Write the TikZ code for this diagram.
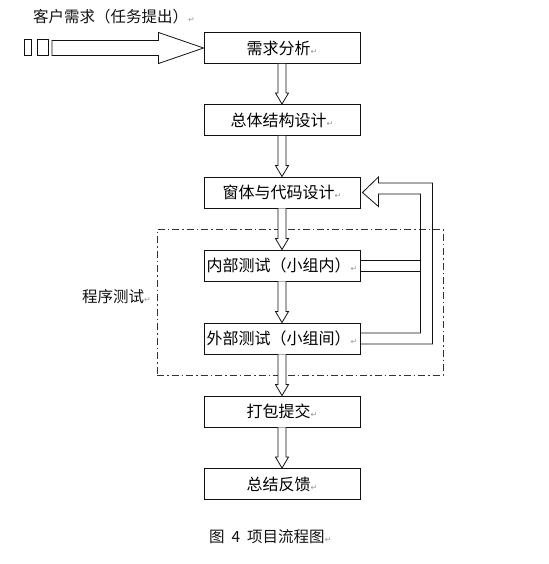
\documentclass[tikz,border=0pt]{standalone}
\usepackage{fontspec}
\usepackage{xcolor}
\usetikzlibrary{calc,positioning}
\newfontfamily\cjk{Noto Sans CJK SC}
\newfontfamily\symfont{DejaVu Sans}
\definecolor{ink}{HTML}{111111}
\definecolor{markgray}{HTML}{9A9A9A}
\definecolor{framegray}{HTML}{333333}
\newcommand{\pmark}{{\symfont\color{markgray}\fontsize{8pt}{9pt}\selectfont ↵}}
\tikzset{
  stepbox/.style={draw=ink, line width=0.9pt, fill=white, minimum width=156pt, minimum height=31pt, inner sep=0pt, font=\cjk\fontsize{16pt}{18pt}\selectfont},
  plain/.style={font=\cjk\fontsize{15.5pt}{17pt}\selectfont, inner sep=0pt, text=ink},
  blockarrow/.style={draw=ink, line width=0.8pt, fill=white, line join=miter},
  testframe/.style={draw=framegray, line width=0.8pt, dash pattern=on 7pt off 3pt on 1.5pt off 3pt, minimum width=286pt, minimum height=146pt, inner sep=0pt},
  glyphbox/.style={draw=ink, line width=0.8pt, minimum height=16pt, inner sep=0pt}
}
\newcommand{\downblock}[2]{%
  \draw[blockarrow] ($(#1.south)+(-4,0)$) -- ($(#2.north)+(-4,-11)$) -- ($(#2.north)+(-6.5,-11)$) -- (#2.north)
    -- ($(#2.north)+(6.5,-11)$) -- ($(#2.north)+(4,-11)$) -- ($(#1.south)+(4,0)$);}

\begin{document}
\begin{tikzpicture}[x=1pt, y=-1pt]
\useasboundingbox (0,0) rectangle (548,564);
\node[testframe] (test) at (300,302) {};
\node[plain, anchor=west] (testlabel) at (82,297) {程序测试\pmark};
\node[plain, anchor=west] (demand) at (33,17) {客户需求（任务提出）\pmark};
\node[glyphbox, minimum width=7pt] (sq1) at (27.5,47.5) {};
\node[glyphbox, minimum width=11pt] (sq2) at (42.5,47.5) {};
\coordinate (inStart) at (52,48);
\node[stepbox] (req) at (282,48) {需求分析\pmark};
\node[stepbox] (arch) at (282,120) {总体结构设计\pmark};
\node[stepbox] (code) at (282,192.5) {窗体与代码设计\pmark};
\node[stepbox] (inner) at (282,265.5) {内部测试（小组内）\pmark};
\node[stepbox] (outer) at (282,338.5) {外部测试（小组间）\pmark};
\node[stepbox] (pack) at (282,411.5) {打包提交\pmark};
\node[stepbox] (summ) at (282,484) {总结反馈\pmark};
\node[plain, anchor=west] (caption) at (209,537) {图\ \ 4\ \ 项目流程图\pmark};
% input arrow
\draw[blockarrow] ($(inStart)+(0,-7.5)$) -- ($(req.west)+(-45,-7.5)$) -- ($(req.west)+(-45,-15.5)$) -- (req.west)
  -- ($(req.west)+(-45,15.5)$) -- ($(req.west)+(-45,7.5)$) -- ($(inStart)+(0,7.5)$) -- cycle;
\downblock{req}{arch}
\downblock{arch}{code}
\downblock{code}{inner}
\downblock{inner}{outer}
\downblock{outer}{pack}
\downblock{pack}{summ}
% feedback loop
\draw[blockarrow, fill=none] ($(outer.east)+(0,5.5)$) -- ($(outer.east)+(72,5.5)$) -- ($(code.east)+(72,-9.5)$)
  -- ($(code.east)+(18,-9.5)$) -- ($(code.east)+(18,-15.5)$) -- ($(code.east)+(2,0)$) -- ($(code.east)+(18,14)$)
  -- ($(code.east)+(18,1.5)$) -- ($(code.east)+(60,1.5)$) -- ($(outer.east)+(60,-5.5)$) -- ($(outer.east)+(0,-5.5)$);
\draw[blockarrow] ($(inner.east)+(0,-5.5)$) -- ($(inner.east)+(60,-5.5)$);
\draw[blockarrow] ($(inner.east)+(0,5.5)$) -- ($(inner.east)+(60,5.5)$);
\end{tikzpicture}
\end{document}
